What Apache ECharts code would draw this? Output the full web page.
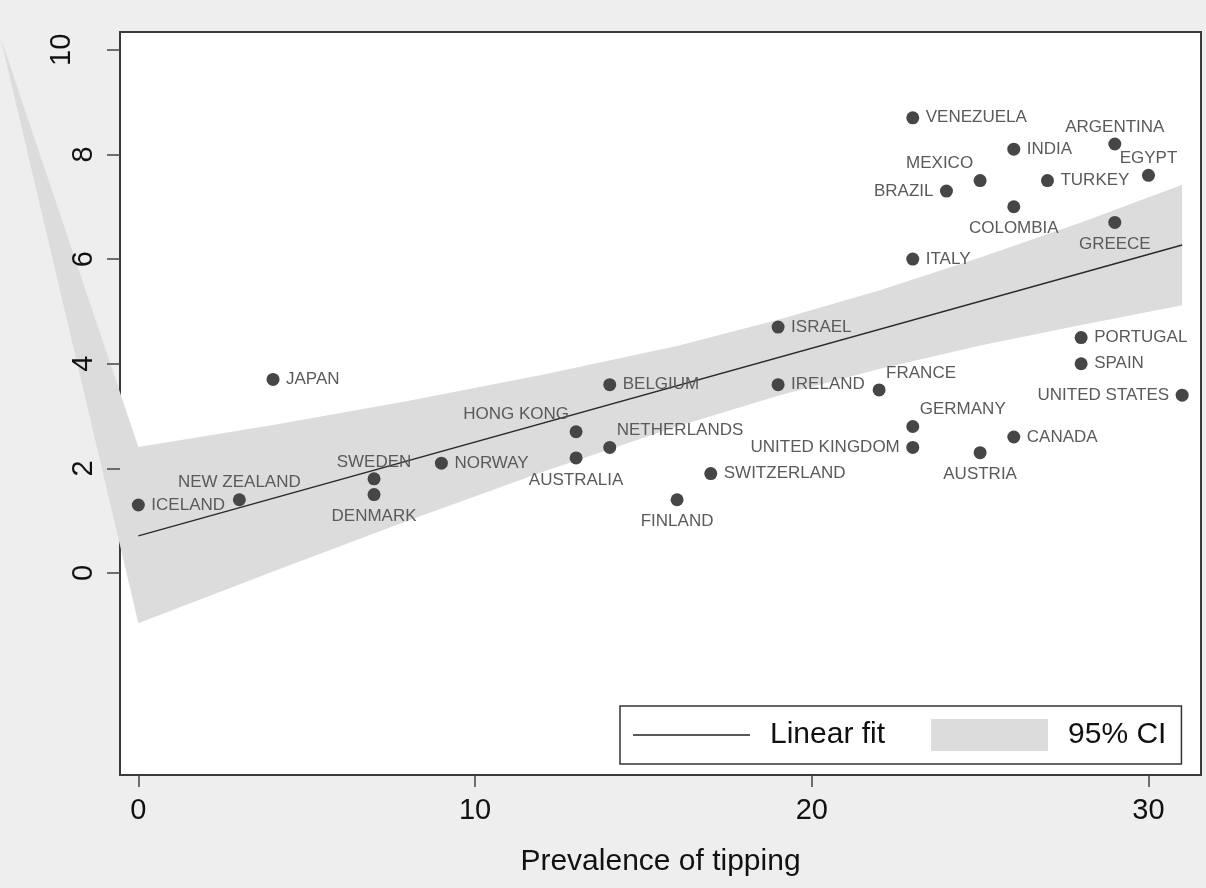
<!DOCTYPE html>
<html>
<head>
<meta charset="utf-8">
<script src="https://cdn.jsdelivr.net/npm/echarts@6/dist/echarts.min.js"></script>
<style>
html,body{margin:0;padding:0;background:#eeeeee;}
#chart{width:1206px;height:888px;}
</style>
</head>
<body>
<div id="chart"></div>
<script>
// ---- data ----
const countries = ['ICELAND','NEW ZEALAND','JAPAN','SWEDEN','DENMARK','NORWAY','HONG KONG','AUSTRALIA',
  'BELGIUM','NETHERLANDS','FINLAND','SWITZERLAND','ISRAEL','IRELAND','FRANCE','GERMANY','UNITED KINGDOM',
  'ITALY','VENEZUELA','BRAZIL','MEXICO','AUSTRIA','INDIA','COLOMBIA','CANADA','TURKEY','PORTUGAL','SPAIN',
  'ARGENTINA','GREECE','EGYPT','UNITED STATES'];
const tipping = [0,3,4,7,7,9,13,13,14,14,16,17,19,19,22,23,23,23,23,24,25,25,26,26,26,27,28,28,29,29,30,31];
const yValues = [1.3,1.4,3.7,1.8,1.5,2.1,2.7,2.2,3.6,2.4,1.4,1.9,4.7,3.6,3.5,2.8,2.4,6.0,8.7,7.3,7.5,2.3,8.1,7.0,2.6,7.5,4.5,4.0,8.2,6.7,7.6,3.4];
// label clock position per country (r=3, l=9, t=12, b=6, tl=11, tr=1)
const labelPos = ['r','t','r','t','b','r','tl','b','r','tr','b','r','r','r','tr','tr','l',
  'r','r','l','tl','b','r','b','r','r','r','r','t','b','t','l'];

const fitX = [0, 31];
const fitY = [0.71, 6.27];

const ciX     = [0, 4, 8, 12, 16, 19, 22, 25, 28, 31];
const ciUpper = [2.41, 2.83, 3.29, 3.79, 4.34, 4.84, 5.40, 6.03, 6.70, 7.42];
const ciLower = [-0.96, 0.03, 1.00, 1.93, 2.80, 3.39, 3.90, 4.35, 4.74, 5.12];
const ciStray = [-4.1, 10.25]; // stray closing vertex of the CI polygon (outside the plot)

const xTicks = [0, 10, 20, 30];
const yTicks = [0, 2, 4, 6, 8, 10];

// ---- chart ----
const FONT = "'Liberation Sans', Arial, Helvetica, sans-serif";
const placements = {
  r:  {offset:[13,0],   align:'left',   verticalAlign:'middle'},
  l:  {offset:[-13,0],  align:'right',  verticalAlign:'middle'},
  t:  {offset:[0,-17],  align:'center', verticalAlign:'middle'},
  b:  {offset:[0,22],   align:'center', verticalAlign:'middle'},
  tl: {offset:[-7,-17], align:'right',  verticalAlign:'middle'},
  tr: {offset:[7,-17],  align:'left',   verticalAlign:'middle'}
};

const scatterData = countries.map((c, i) => ({
  name: c,
  value: [tipping[i], yValues[i]],
  label: Object.assign({show:true, position:'inside', formatter: c}, placements[labelPos[i]])
}));

const chart = echarts.init(document.getElementById('chart'), null, {renderer:'canvas'});

chart.setOption({
  backgroundColor: '#eeeeee',
  animation: false,
  grid: {
    left: 120, top: 32, right: 5, bottom: 113,
    show: true, backgroundColor: '#ffffff', borderColor: '#3a3a3a', borderWidth: 2
  },
  legend: {
    left: 620, top: 706,
    orient: 'horizontal',
    selectedMode: false,
    backgroundColor: '#ffffff',
    borderColor: '#333333', borderWidth: 1.5, borderRadius: 0,
    padding: [13, 15, 13, 13],
    itemWidth: 117, itemHeight: 32, itemGap: 46,
    textStyle: {fontSize: 30, color: '#111111', fontFamily: FONT, padding: [0,0,0,15]},
    data: [
      {name: 'Linear fit', icon: 'path://M0,0 M117,32 M0,15.2 L117,15.2 L117,16.8 L0,16.8 Z', itemStyle: {color: '#222222'}},
      {name: '95% CI', icon: 'rect'}
    ]
  },
  xAxis: {
    type: 'value', min: -0.545, max: 31.56,
    name: 'Prevalence of tipping', nameLocation: 'middle', nameGap: 72,
    nameTextStyle: {fontSize: 30, color: '#111111', fontFamily: FONT},
    axisLine: {show: false, onZero: false},
    axisTick: {show: true, inside: false, length: 12, customValues: xTicks, lineStyle: {color: '#444', width: 1.5}},
    axisLabel: {show: true, margin: 21, customValues: xTicks, fontSize: 29, color: '#111111', fontFamily: FONT},
    splitLine: {show: false},
    z: 5
  },
  yAxis: {
    type: 'value', min: -3.86, max: 10.34,
    axisLine: {show: false, onZero: false},
    axisTick: {show: true, inside: false, length: 13, customValues: yTicks, lineStyle: {color: '#444', width: 1.5}},
    axisLabel: {
      show: true, margin: 22, rotate: 90, customValues: yTicks,
      fontSize: 29, color: '#111111', fontFamily: FONT,
      formatter: v => (v === 10 ? '{t|' + v + '}' : '{n|' + v + '}'),
      rich: {
        t: {fontSize: 29, color: '#111111', fontFamily: FONT, padding: [0, 0, 22, 0]},
        n: {fontSize: 29, color: '#111111', fontFamily: FONT}
      }
    },
    splitLine: {show: false},
    z: 5
  },
  series: [
    {
      name: '95% CI',
      type: 'custom',
      clip: false,
      silent: true,
      z: 2,
      itemStyle: {color: '#dcdcdc'},
      data: [[0, 0]],
      renderItem: function (params, api) {
        const pts = [];
        for (let i = 0; i < ciX.length; i++) pts.push(api.coord([ciX[i], ciUpper[i]]));
        for (let i = ciX.length - 1; i >= 0; i--) pts.push(api.coord([ciX[i], ciLower[i]]));
        pts.push(api.coord(ciStray));
        return {type: 'polygon', shape: {points: pts}, style: {fill: '#dcdcdc'}};
      }
    },
    {
      name: 'Linear fit',
      type: 'line',
      symbol: 'none', showSymbol: false,
      silent: true,
      z: 3,
      lineStyle: {color: '#2a2a2a', width: 1.4},
      itemStyle: {color: '#2a2a2a'},
      data: fitX.map((x, i) => [x, fitY[i]])
    },
    {
      name: 'countries',
      type: 'scatter',
      symbol: 'circle', symbolSize: 13,
      z: 4,
      itemStyle: {color: '#464646', opacity: 1},
      label: {show: true, fontSize: 17, color: '#5a5a5a', fontFamily: FONT},
      data: scatterData
    }
  ]
});
</script>
</body>
</html>
